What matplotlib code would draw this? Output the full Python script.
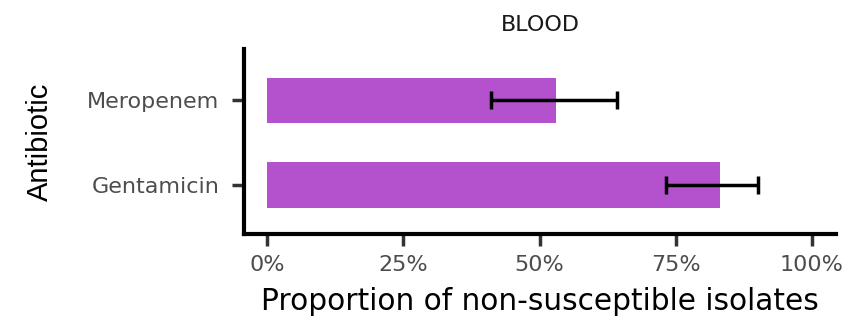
import matplotlib
matplotlib.use("Agg")
import matplotlib.pyplot as plt
import numpy as np

# proportion of non-susceptible blood isolates, with 95% CI
antibiotics = ["Gentamicin", "Meropenem"]
proportion = [0.832, 0.531]
ci_low = [0.732, 0.411]
ci_high = [0.902, 0.643]
x_ticks = [0, 0.25, 0.5, 0.75, 1.0]
x_ticklabels = ["0%", "25%", "50%", "75%", "100%"]

BAR_COLOUR = "#B452CD"
TICK_GREY = "#4D4D4D"

fig = plt.figure(figsize=(8.58, 3.25), dpi=100)
ax = fig.add_axes([0.2844, 0.2785, 0.690, 0.5717])

pos = np.arange(1, len(antibiotics) + 1)
prop = np.array(proportion)
err = np.vstack([prop - np.array(ci_low), np.array(ci_high) - prop])

ax.barh(pos, prop, height=0.54, color=BAR_COLOUR, zorder=2)
ax.errorbar(prop, pos, xerr=err, fmt="none", ecolor="black",
            elinewidth=2.5, capsize=6.4, capthick=2.5, zorder=3)

ax.set_xlim(-0.0428, 1.0446)
ax.set_ylim(0.42, 2.61)
ax.set_yticks(pos)
ax.set_yticklabels(antibiotics)
ax.set_xticks(x_ticks)
ax.set_xticklabels(x_ticklabels)

for side in ("top", "right"):
    ax.spines[side].set_visible(False)
for side in ("left", "bottom"):
    ax.spines[side].set_linewidth(3.0)
    ax.spines[side].set_color("black")
    ax.spines[side].set_capstyle("projecting")

ax.tick_params(axis="both", length=8.6, width=2.5, color="#333333",
               labelcolor=TICK_GREY, labelsize=16)
ax.tick_params(axis="x", pad=6.5)
ax.tick_params(axis="y", pad=9)

ax.set_xlabel("Proportion of non-susceptible isolates", fontsize=21.3,
              color="black", labelpad=8)
ax.set_ylabel("Antibiotic", fontsize=21, color="black", labelpad=24,
              family=["Liberation Sans", "DejaVu Sans"])
ax.set_title("BLOOD", fontsize=16, color="#1a1a1a", pad=13)

fig.savefig("out.png", dpi=100)
